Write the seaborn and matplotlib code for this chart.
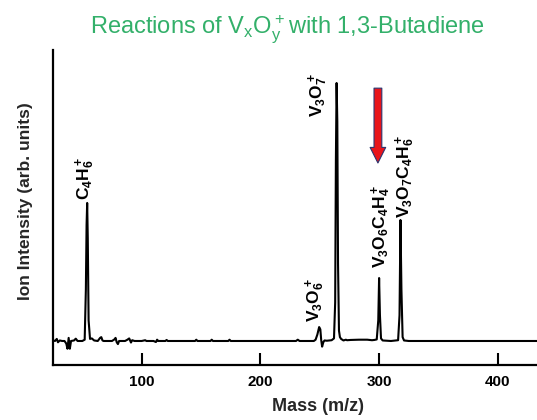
import matplotlib
matplotlib.use("Agg")
import matplotlib.pyplot as plt
import seaborn as sns
import pandas as pd

# ---- data ----
mass = [25, 27, 28.5, 29.5, 31, 33, 35, 36.5, 37.5, 38.5, 39.5, 40.5, 43, 44.5, 46,
        50, 52, 53, 53.6, 54.1, 54.6, 55.3, 56.5, 58, 60, 63, 65, 66, 67, 68, 75,
        77, 78, 79, 80, 81, 86, 88, 89.5, 91, 92, 94, 100, 103, 104, 110, 112, 113,
        114, 120, 121, 122, 145, 146, 147, 158, 159, 160, 173, 174, 175, 230, 231.5,
        233, 245, 246.5, 248, 249.5, 250.5, 251.2, 252, 253, 254, 256, 260, 262,
        263, 263.6, 264.2, 264.8, 265.4, 266.2, 267, 268, 270, 272, 273, 276, 283,
        290, 294, 296, 298, 299.3, 300, 300.7, 301.6, 303, 310, 316, 317.2, 318,
        318.8, 319.8, 321, 325, 434]
intensity = [0.3, 0.0, 0.8, -0.5, 0.2, 0.0, 0.0, -1.0, -3.0, 1.2, -3.0, 0.0, 0.2, 0.9, 0.0,
             0.0, 0.5, 20, 45, 53.5, 40, 8, 0.8, 1.0, 0.2, 0.0, 1.2, 1.5, 0.2, 0.0, 0.0,
             0.6, 1.2, -0.5, -1.2, 0.0, 0.0, 0.5, 1.0, -0.6, 0.3, 0.0, 0.0, 0.3, 0.0, 0.0, -0.4, 0.5,
             0.0, 0.0, 0.4, 0.0, 0.0, 0.5, 0.0, 0.0, 0.5, 0.0, 0.0, 0.5, 0.0, 0.0, 0.5,
             0.0, 0.0, 0.5, 2.5, 5.4, 4.5, 0.5, -2.2, -0.5, 0.2, 0.1, 0.3, 1.0,
             15, 70, 100, 85, 30, 4, 1.5, 0.8, 0.2, 0.5, 0.3, 0.4, 0.5,
             0.5, 0.3, 0.4, 0.6, 8, 24.4, 10, 1.0, 0.2, 0.0, 0.3, 10, 46.9,
             20, 1.5, 0.2, 0.0, 0.0]

peak_labels = ["C$_4$H$_6^+$", "V$_3$O$_7^+$", "V$_3$O$_6^+$",
               "V$_3$O$_6$C$_4$H$_4^+$", "V$_3$O$_7$C$_4$H$_6^+$"]
label_mass = [52.5, 249, 246.5, 302, 322]
label_base = [54.7, 86.8, 7.5, 28.3, 47.5]

x_ticks = [100, 200, 300, 400]
title_text = "Reactions of V$_x$O$_y^+$with 1,3-Butadiene"
x_label = "Mass (m/z)"
y_label = "Ion Intensity (arb. units)"

# ---- style ----
sns.set_style("ticks")
plt.rcParams["font.family"] = ["Liberation Sans", "DejaVu Sans"]
plt.rcParams["mathtext.fontset"] = "custom"
plt.rcParams["mathtext.rm"] = "Liberation Sans"
plt.rcParams["mathtext.bf"] = "Liberation Sans:bold"
plt.rcParams["mathtext.default"] = "regular"

fig = plt.figure(figsize=(5.37, 4.2), dpi=100)
ax = fig.add_axes([0.098, 0.131, 0.902, 0.75])

df = pd.DataFrame({"mass": mass, "intensity": intensity})
sns.lineplot(data=df, x="mass", y="intensity", sort=False, estimator=None,
             color="black", lw=1.5, ax=ax)

ax.set_xlim(25, 433)
ax.set_ylim(-9.3, 112.8)
sns.despine(ax=ax)
for s in ["left", "bottom"]:
    ax.spines[s].set_linewidth(1.6)
    ax.spines[s].set_color("black")

ax.set_xticks(x_ticks)
ax.set_xticklabels([str(t) for t in x_ticks], fontsize=11, fontweight="bold")
ax.set_yticks([])
ax.tick_params(axis="x", direction="in", length=9, width=1.5, pad=7, colors="black")

ax.set_xlabel(x_label, fontsize=13, fontweight="bold")
ax.xaxis.set_label_coords(0.548, -0.105)
ax.set_ylabel(y_label, fontsize=12.5, fontweight="bold")
ax.yaxis.set_label_coords(-0.041, 0.52)

for lab, xm, yb in zip(peak_labels, label_mass, label_base):
    ax.text(xm, yb, lab, rotation=90, ha="center", va="bottom",
            fontsize=12.5, fontweight="bold", color="black")

ax.annotate("", xy=(299, 69), xytext=(299, 98),
            arrowprops=dict(arrowstyle="simple,head_length=0.8,head_width=0.8,tail_width=0.4",
                            mutation_scale=14, fc="#e8151b", ec="#2a3570", lw=0.8,
                            shrinkA=0, shrinkB=0))

fig.text(0.535, 0.921, title_text, ha="center", va="baseline",
         fontsize=17, color="#33b06a")

fig.savefig("out.png", dpi=100)
